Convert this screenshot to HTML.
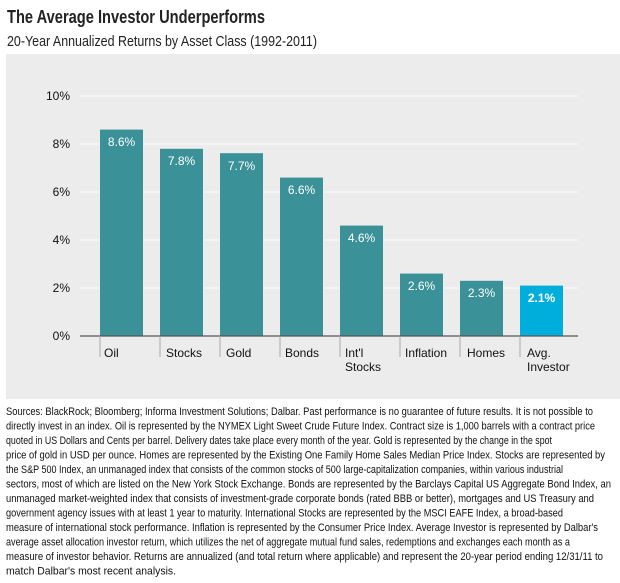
<!DOCTYPE html>
<html><head><meta charset="utf-8"><style>
body{margin:0;background:#fff;width:620px;height:583px;overflow:hidden}
svg{display:block;font-family:"Liberation Sans",sans-serif}
</style></head><body>
<svg width="620" height="583" viewBox="0 0 620 583" xmlns="http://www.w3.org/2000/svg">
<text x="7" y="23" font-size="18" font-weight="bold" fill="#222" textLength="258" lengthAdjust="spacingAndGlyphs">The Average Investor Underperforms</text>
<text x="7" y="46" font-size="15" fill="#222" textLength="310" lengthAdjust="spacingAndGlyphs">20-Year Annualized Returns by Asset Class (1992-2011)</text>
<rect x="6" y="54" width="614" height="345" fill="#ececec"/>
<g stroke="#fafafa" stroke-width="1">
<line x1="80" y1="96" x2="578" y2="96"/><line x1="80" y1="144" x2="578" y2="144"/>
<line x1="80" y1="192" x2="578" y2="192"/><line x1="80" y1="240" x2="578" y2="240"/>
<line x1="80" y1="288" x2="578" y2="288"/>
</g>
<g font-size="12" fill="#111" text-anchor="end">
<text x="70" y="100">10%</text><text x="70" y="148">8%</text><text x="70" y="196">6%</text>
<text x="70" y="244">4%</text><text x="70" y="292">2%</text><text x="70" y="340">0%</text>
</g>
<g fill="#3a9198">
<rect x="100" y="129.6" width="43" height="206.4"/>
<rect x="160" y="148.8" width="43" height="187.2"/>
<rect x="220" y="153.2" width="43" height="182.8"/>
<rect x="280" y="177.6" width="43" height="158.4"/>
<rect x="340" y="225.6" width="43" height="110.4"/>
<rect x="400" y="273.6" width="43" height="62.4"/>
<rect x="460" y="280.8" width="43" height="55.2"/>
<rect x="520" y="285.6" width="43" height="50.4" fill="#00aedb"/>
</g>
<g font-size="12" fill="#fff" text-anchor="middle">
<text x="121.5" y="146">8.6%</text><text x="181.5" y="165">7.8%</text><text x="241.5" y="170">7.7%</text>
<text x="301.5" y="194">6.6%</text><text x="361.5" y="242">4.6%</text><text x="421.5" y="290">2.6%</text>
<text x="481.5" y="297">2.3%</text><text x="541.5" y="302" font-weight="bold">2.1%</text>
</g>
<line x1="80" y1="336" x2="578" y2="336" stroke="#555" stroke-width="1.2"/>
<g stroke="#aaa" stroke-width="1">
<line x1="100" y1="336" x2="100" y2="357"/><line x1="160" y1="336" x2="160" y2="357"/>
<line x1="220" y1="336" x2="220" y2="357"/><line x1="280" y1="336" x2="280" y2="357"/>
<line x1="340" y1="336" x2="340" y2="357"/><line x1="400" y1="336" x2="400" y2="357"/>
<line x1="460" y1="336" x2="460" y2="357"/><line x1="520" y1="336" x2="520" y2="357"/>
</g>
<g font-size="12" fill="#111">
<text x="104" y="357">Oil</text><text x="166" y="357">Stocks</text><text x="226" y="357">Gold</text>
<text x="285" y="357">Bonds</text><text x="345" y="357">Int'l</text><text x="345" y="371">Stocks</text>
<text x="405" y="357">Inflation</text><text x="467" y="357">Homes</text>
<text x="527" y="357">Avg.</text><text x="527" y="371">Investor</text>
</g>
<g font-size="11" fill="#111">
<text x="6" y="415" textLength="587" lengthAdjust="spacingAndGlyphs">Sources: BlackRock; Bloomberg; Informa Investment Solutions; Dalbar. Past performance is no guarantee of future results. It is not possible to</text>
<text x="6" y="429.5" textLength="589" lengthAdjust="spacingAndGlyphs">directly invest in an index. Oil is represented by the NYMEX Light Sweet Crude Future Index. Contract size is 1,000 barrels with a contract price</text>
<text x="6" y="444" textLength="546" lengthAdjust="spacingAndGlyphs">quoted in US Dollars and Cents per barrel. Delivery dates take place every month of the year. Gold is represented by the change in the spot</text>
<text x="6" y="458.5" textLength="599" lengthAdjust="spacingAndGlyphs">price of gold in USD per ounce. Homes are represented by the Existing One Family Home Sales Median Price Index. Stocks are represented by</text>
<text x="6" y="473" textLength="557" lengthAdjust="spacingAndGlyphs">the S&amp;P 500 Index, an unmanaged index that consists of the common stocks of 500 large-capitalization companies, within various industrial</text>
<text x="6" y="487.5" textLength="605" lengthAdjust="spacingAndGlyphs">sectors, most of which are listed on the New York Stock Exchange. Bonds are represented by the Barclays Capital US Aggregate Bond Index, an</text>
<text x="6" y="502" textLength="588" lengthAdjust="spacingAndGlyphs">unmanaged market-weighted index that consists of investment-grade corporate bonds (rated BBB or better), mortgages and US Treasury and</text>
<text x="6" y="516.5" textLength="557" lengthAdjust="spacingAndGlyphs">government agency issues with at least 1 year to maturity. International Stocks are represented by the MSCI EAFE Index, a broad-based</text>
<text x="6" y="531" textLength="592" lengthAdjust="spacingAndGlyphs">measure of international stock performance. Inflation is represented by the Consumer Price Index. Average Investor is represented by Dalbar's</text>
<text x="6" y="545.5" textLength="564" lengthAdjust="spacingAndGlyphs">average asset allocation investor return, which utilizes the net of aggregate mutual fund sales, redemptions and exchanges each month as a</text>
<text x="6" y="560" textLength="597" lengthAdjust="spacingAndGlyphs">measure of investor behavior. Returns are annualized (and total return where applicable) and represent the 20-year period ending 12/31/11 to</text>
<text x="6" y="574.5" textLength="170" lengthAdjust="spacingAndGlyphs">match Dalbar's most recent analysis.</text>
</g>
</svg>
</body></html>
